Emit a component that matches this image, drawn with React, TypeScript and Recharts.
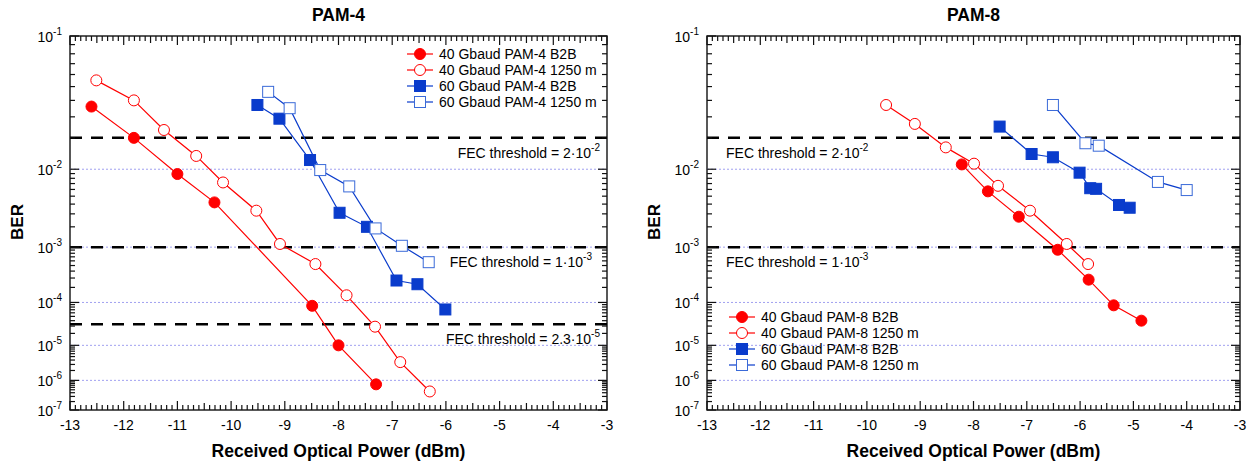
import React from "react";
import {
  LineChart,
  Line,
  XAxis,
  YAxis,
  ReferenceLine,
  ReferenceArea,
  Legend,
} from "recharts";

// PAM-4: received optical power (dBm) and BER
const pam4B2b40Power = [-12.6, -11.81, -11.0, -10.31, -8.49, -8.0, -7.3];
const pam4B2b40Ber = [0.036, 0.02, 8.9e-3, 4.2e-3, 8.5e-5, 1.0e-5, 7.5e-7];
const pam4Fiber40Power = [-12.51, -11.81, -11.25, -10.65, -10.15, -9.53, -9.09, -8.43, -7.85, -7.32, -6.85, -6.3];
const pam4Fiber40Ber = [0.055, 0.04, 0.0234, 0.0136, 7.2e-3, 3.3e-3, 1.12e-3, 5.3e-4, 1.4e-4, 2.9e-5, 3.5e-6, 4.4e-7];
const pam4B2b60Power = [-9.51, -9.1, -8.53, -7.98, -7.47, -6.92, -6.53, -6.01];
const pam4B2b60Ber = [0.037, 0.029, 0.0124, 3.1e-3, 2.0e-3, 2.7e-4, 2.3e-4, 7.1e-5];
const pam4Fiber60Power = [-9.31, -8.91, -8.34, -7.8, -7.31, -6.82, -6.32];
const pam4Fiber60Ber = [0.046, 0.035, 9.8e-3, 6.5e-3, 1.9e-3, 1.05e-3, 5.7e-4];

// PAM-8
const pam8B2b40Power = [-8.22, -7.73, -7.15, -6.42, -5.84, -5.37, -4.85];
const pam8B2b40Ber = [0.0112, 5.7e-3, 2.75e-3, 9.1e-4, 2.8e-4, 8.7e-5, 4.0e-5];
const pam8Fiber40Power = [-9.64, -9.1, -8.52, -7.99, -7.54, -6.94, -6.25, -5.85];
const pam8Fiber40Ber = [0.037, 0.0263, 0.0164, 0.0114, 6.6e-3, 3.3e-3, 1.12e-3, 5.3e-4];
const pam8B2b60Power = [-7.51, -6.91, -6.51, -6.01, -5.81, -5.7, -5.27, -5.07];
const pam8B2b60Ber = [0.025, 0.0142, 0.0132, 9.2e-3, 6.2e-3, 6.1e-3, 3.9e-3, 3.6e-3];
const pam8Fiber60Power = [-6.51, -5.9, -5.65, -4.54, -4.0];
const pam8Fiber60Ber = [0.037, 0.0179, 0.017, 7.3e-3, 5.9e-3];

// FEC thresholds (the 2.3e-5 line is drawn near 3.3e-5 in the original)
const pam4ThresholdBer = [2e-2, 1e-3, 3.3e-5];
const pam4ThresholdText = ["2", "1", "2.3"];
const pam4ThresholdExp = ["-2", "-3", "-5"];
const pam8ThresholdBer = [2e-2, 1e-3];
const pam8ThresholdText = ["2", "1"];
const pam8ThresholdExp = ["-2", "-3"];

const gridDecades = [1e-2, 1e-3, 1e-4, 1e-5, 1e-6];

const FONT = '"Liberation Sans", Arial, sans-serif';
const RED = "#ff0000";
const BLUE = "#0a3ccc";
const TICK = "#111";
const W = 627;
const H = 463;
const TOP = 36;
const X_MIN = -13;
const X_MAX = -3;

// BER axis is drawn as log(-log(BER))
const toY = (ber: number) => Math.log10(-Math.log10(ber));
const Y_MAX = toY(1e-7);

const xTicks = Array.from({ length: 101 }, (_, i) => (i - 130) / 10);

type YTickInfo = { v: number; exp?: number };
const yTickInfo: YTickInfo[] = [];
for (let n = 1; n <= 7; n++) yTickInfo.push({ v: toY(Math.pow(10, -n)), exp: n });
for (let n = 1; n <= 6; n++)
  for (let m = 2; m <= 9; m++) yTickInfo.push({ v: toY(m * Math.pow(10, -(n + 1))) });

const isMajorX = (v: number) => Math.abs(v - Math.round(v)) < 1e-6;
const isHalfX = (v: number) => Math.abs(v * 2 - Math.round(v * 2)) < 1e-6;
const xLen = (v: number) => (isMajorX(v) ? 9 : isHalfX(v) ? 7 : 5);

// tick-mark positions along the four frame edges
type Edge = "bottom" | "top" | "left" | "right";
const edgeTicks: Record<Edge, { x: number; y: number; len: number }[]> = {
  bottom: xTicks.map((v) => ({ x: v, y: Y_MAX, len: xLen(v) })),
  top: xTicks.map((v) => ({ x: v, y: 0, len: xLen(v) })),
  left: yTickInfo.map((t) => ({ x: X_MIN, y: t.v, len: t.exp ? 9 : 5 })),
  right: yTickInfo.map((t) => ({ x: X_MAX, y: t.v, len: t.exp ? 9 : 5 })),
};
const edges: Edge[] = ["bottom", "top", "left", "right"];

type Series = {
  name: string;
  power: number[];
  ber: number[];
  color: string;
  shape: "circle" | "square";
  filled: boolean;
};

const pam4Series: Series[] = [
  { name: "40 Gbaud PAM-4 B2B", power: pam4B2b40Power, ber: pam4B2b40Ber, color: RED, shape: "circle", filled: true },
  { name: "40 Gbaud PAM-4 1250 m", power: pam4Fiber40Power, ber: pam4Fiber40Ber, color: RED, shape: "circle", filled: false },
  { name: "60 Gbaud PAM-4 B2B", power: pam4B2b60Power, ber: pam4B2b60Ber, color: BLUE, shape: "square", filled: true },
  { name: "60 Gbaud PAM-4 1250 m", power: pam4Fiber60Power, ber: pam4Fiber60Ber, color: BLUE, shape: "square", filled: false },
];

const pam8Series: Series[] = [
  { name: "40 Gbaud PAM-8 B2B", power: pam8B2b40Power, ber: pam8B2b40Ber, color: RED, shape: "circle", filled: true },
  { name: "40 Gbaud PAM-8 1250 m", power: pam8Fiber40Power, ber: pam8Fiber40Ber, color: RED, shape: "circle", filled: false },
  { name: "60 Gbaud PAM-8 B2B", power: pam8B2b60Power, ber: pam8B2b60Ber, color: BLUE, shape: "square", filled: true },
  { name: "60 Gbaud PAM-8 1250 m", power: pam8Fiber60Power, ber: pam8Fiber60Ber, color: BLUE, shape: "square", filled: false },
];

function Marker({ cx, cy, s }: { cx: number; cy: number; s: Series }) {
  const fill = s.filled ? s.color : "#fff";
  const stroke = s.filled ? s.color : s.color === BLUE ? "#3a6ad8" : s.color;
  if (s.shape === "circle") return <circle cx={cx} cy={cy} r={5.5} fill={fill} stroke={stroke} strokeWidth={1} />;
  return <rect x={cx - 5.5} y={cy - 5.5} width={11} height={11} fill={fill} stroke={stroke} strokeWidth={1} />;
}

const renderEdgeTick = (edge: Edge) => (dp: any) => {
  const { cx, cy, payload, index } = dp;
  const len: number = payload.len;
  const dx = edge === "left" ? len : edge === "right" ? -len : 0;
  const dy = edge === "bottom" ? -len : edge === "top" ? len : 0;
  return <line key={`${edge}-${index}`} x1={cx} y1={cy} x2={cx + dx} y2={cy + dy} stroke={TICK} strokeWidth={1.2} />;
};

const XLabel = (props: any) => {
  const { x, y, payload } = props;
  const v: number = payload.value;
  if (!isMajorX(v)) return <g />;
  return (
    <text x={x} y={y + 20} textAnchor="middle" fontSize={14} fontFamily={FONT} fill="#000">
      {Math.round(v)}
    </text>
  );
};

const YLabel = (props: any) => {
  const { x, y, payload } = props;
  const info = yTickInfo.find((t) => Math.abs(t.v - payload.value) < 1e-9);
  if (!info?.exp) return <g />;
  return (
    <text x={x - 8} y={y + 6} textAnchor="end" fontSize={14} fontFamily={FONT} fill="#000">
      10
      <tspan dy={-7} fontSize={10}>{`-${info.exp}`}</tspan>
    </text>
  );
};

const makeLegend = (series: Series[]) => (props: any) => {
  const names = new Set((props.payload || []).map((e: any) => e.value));
  return (
    <div style={{ fontFamily: FONT, fontSize: 14, color: "#000" }}>
      {series
        .filter((s) => names.has(s.name))
        .map((s) => (
          <div key={s.name} style={{ display: "flex", alignItems: "center", height: 16, whiteSpace: "nowrap" }}>
            <svg width={26} height={14}>
              <line x1={0} y1={7} x2={26} y2={7} stroke={s.color} strokeWidth={1.2} />
              <Marker cx={13} cy={7} s={s} />
            </svg>
            <span style={{ marginLeft: 6 }}>{s.name}</span>
          </div>
        ))}
    </div>
  );
};

type PanelProps = {
  title: string;
  series: Series[];
  thBer: number[];
  thText: string[];
  thExp: string[];
  thAlign: "left" | "right";
  thGap: number[];
  plotLeft: number;
  marginRight: number;
  legendPos: { left: number; top: number };
  offsetX: number;
};

function Panel(p: PanelProps) {
  const plotW = W - p.plotLeft - p.marginRight;
  return (
    <div style={{ position: "absolute", left: p.offsetX, top: 0, width: W, height: H }}>
      <div
        style={{
          position: "absolute",
          left: p.plotLeft,
          width: plotW,
          top: 5,
          textAlign: "center",
          fontWeight: "bold",
          fontSize: 17.5,
          lineHeight: "20px",
        }}
      >
        {p.title}
      </div>
      <div
        style={{
          position: "absolute",
          left: p.plotLeft,
          width: plotW,
          top: 441,
          textAlign: "center",
          fontWeight: "bold",
          fontSize: 17.5,
          lineHeight: "20px",
        }}
      >
        Received Optical Power (dBm)
      </div>
      <div
        style={{
          position: "absolute",
          left: p.plotLeft - 52,
          top: 222,
          transform: "translate(-50%, -50%) rotate(-90deg)",
          fontWeight: "bold",
          fontSize: 17,
        }}
      >
        BER
      </div>
      <div style={{ position: "absolute", left: 0, top: 0 }}>
        <LineChart width={W} height={H} margin={{ top: TOP, right: p.marginRight, bottom: 13, left: 0 }}>
          <XAxis
            dataKey="x"
            type="number"
            domain={[X_MIN, X_MAX]}
            ticks={xTicks}
            interval={0}
            tickSize={0}
            tickMargin={0}
            tickLine={false}
            axisLine={false}
            height={40}
            tick={XLabel}
          />
          <YAxis
            type="number"
            domain={[0, Y_MAX]}
            reversed
            ticks={yTickInfo.map((t) => t.v)}
            interval={0}
            tickSize={0}
            tickMargin={0}
            tickLine={false}
            axisLine={false}
            width={p.plotLeft}
            tick={YLabel}
          />
          <ReferenceArea
            x1={X_MIN}
            x2={X_MAX}
            y1={0}
            y2={Y_MAX}
            fill="none"
            fillOpacity={0}
            stroke="#222"
            strokeWidth={1.5}
            ifOverflow="visible"
          />
          {gridDecades.map((d) => (
            <ReferenceLine key={d} y={toY(d)} stroke="#a0a0f0" strokeDasharray="2 2" strokeWidth={1} />
          ))}
          {p.thBer.map((b, i) => (
            <ReferenceLine
              key={`th${i}`}
              y={toY(b)}
              stroke="#000"
              strokeWidth={2.5}
              strokeDasharray="12 9"
              label={(lp: any) => {
                const vb = lp.viewBox || {};
                const right = p.thAlign === "right";
                const tx = right ? vb.x + vb.width - p.thGap[i] : vb.x + p.thGap[i];
                return (
                  <text
                    x={tx}
                    y={vb.y + 20}
                    textAnchor={right ? "end" : "start"}
                    fontSize={14}
                    fontFamily={FONT}
                    fill="#000"
                  >
                    {`FEC threshold = ${p.thText[i]}\u00b710`}
                    <tspan dy={-7} fontSize={10}>{p.thExp[i]}</tspan>
                  </text>
                );
              }}
            />
          ))}
          {edges.map((e) => (
            <Line
              key={`edge-${e}`}
              name={`edge-${e}`}
              legendType="none"
              data={edgeTicks[e]}
              dataKey="y"
              stroke="none"
              isAnimationActive={false}
              activeDot={false}
              dot={renderEdgeTick(e)}
            />
          ))}
          {p.series.map((s) => (
            <Line
              key={s.name}
              name={s.name}
              data={s.power.map((x, i) => ({ x, y: toY(s.ber[i]) }))}
              dataKey="y"
              type="linear"
              stroke={s.color}
              strokeWidth={1.2}
              isAnimationActive={false}
              dot={(dp: any) => <Marker key={`${s.name}-${dp.index}`} cx={dp.cx} cy={dp.cy} s={s} />}
              activeDot={false}
            />
          ))}
          <Legend
            layout="vertical"
            align="center"
            verticalAlign="middle"
            content={makeLegend(p.series)}
            wrapperStyle={{ left: p.legendPos.left, top: p.legendPos.top, width: "auto" }}
          />
        </LineChart>
      </div>
    </div>
  );
}

export default function App() {
  return (
    <div
      style={{
        position: "absolute",
        left: 0,
        top: 0,
        width: 1254,
        height: 463,
        background: "#fff",
        fontFamily: FONT,
        color: "#000",
      }}
    >
      <Panel
        title="PAM-4"
        series={pam4Series}
        thBer={pam4ThresholdBer}
        thText={pam4ThresholdText}
        thExp={pam4ThresholdExp}
        thAlign="right"
        thGap={[7, 15, 7]}
        plotLeft={70}
        marginRight={20}
        legendPos={{ left: 407, top: 46 }}
        offsetX={0}
      />
      <Panel
        title="PAM-8"
        series={pam8Series}
        thBer={pam8ThresholdBer}
        thText={pam8ThresholdText}
        thExp={pam8ThresholdExp}
        thAlign="left"
        thGap={[19, 19]}
        plotLeft={80}
        marginRight={14}
        legendPos={{ left: 102, top: 309 }}
        offsetX={627}
      />
    </div>
  );
}
